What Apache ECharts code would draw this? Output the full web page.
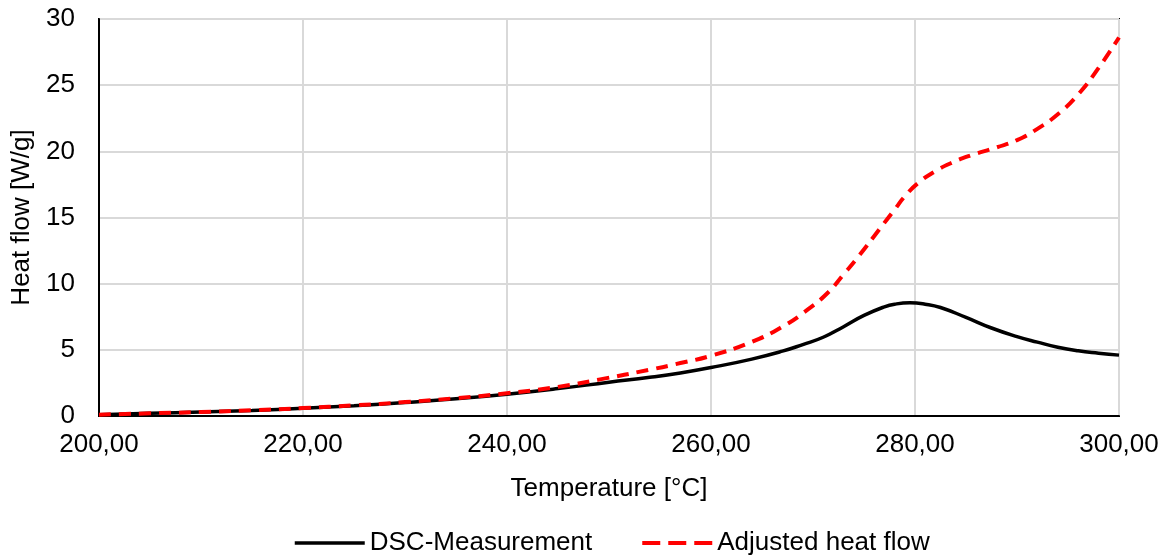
<!DOCTYPE html>
<html>
<head>
<meta charset="utf-8">
<script src="https://cdn.jsdelivr.net/npm/echarts@6/dist/echarts.min.js"></script>
<style>
    html, body { margin: 0; padding: 0; background: #fff; }
    #chart { width: 1166px; height: 556px; }
</style>
</head>
<body>
<div id="chart"></div>
<script>
// 数据
var dscTemp = [200, 205, 210, 215, 220, 225, 230, 235, 240, 245, 250, 254, 257, 260, 264, 267, 269, 271, 273, 275, 277, 278, 279.5, 281, 282.5, 285, 287.5, 290, 292, 294, 296, 298, 300];
var dscFlow = [0.1, 0.2, 0.3, 0.42, 0.58, 0.78, 1.02, 1.3, 1.65, 2.07, 2.55, 2.92, 3.25, 3.66, 4.3, 4.9, 5.4, 5.95, 6.75, 7.6, 8.25, 8.45, 8.55, 8.45, 8.2, 7.45, 6.65, 6.0, 5.58, 5.2, 4.93, 4.75, 4.6];

var adjTemp = [200, 205, 210, 215, 220, 225, 230, 235, 240, 245, 249, 254, 257, 260, 264, 267, 269.5, 271.5, 273, 274.5, 276.5, 278, 279, 280.3, 282, 283.5, 285.5, 288, 290, 292, 294, 296, 298, 300];
var adjFlow = [0.1, 0.2, 0.3, 0.43, 0.6, 0.8, 1.05, 1.35, 1.72, 2.2, 2.75, 3.5, 4.0, 4.55, 5.6, 6.75, 8.05, 9.35, 10.7, 12.1, 14.1, 15.6, 16.6, 17.6, 18.5, 19.1, 19.7, 20.3, 20.85, 21.7, 22.8, 24.3, 26.3, 28.6];

var seriesNames = ['DSC-Measurement', 'Adjusted heat flow'];

function pairs(xs, ys) {
    var out = [];
    for (var i = 0; i < xs.length; i++) {
        out.push([xs[i], ys[i]]);
    }
    return out;
}

var chart = echarts.init(document.getElementById('chart'));
var font = 'Liberation Sans, Arial, sans-serif';
var fs = 26;

var option = {
    animation: false,
    textStyle: { fontFamily: font },
    grid: {
        left: 99, right: 47, top: 19, bottom: 140,
        show: true,
        borderColor: '#000',
        borderWidth: 2
    },
    legend: {
        data: [
            { name: seriesNames[0], lineStyle: { width: 3.5 } },
            { name: seriesNames[1], lineStyle: { width: 4, type: [18, 8] } }
        ],
        left: 288,
        top: 525,
        itemWidth: 70,
        itemHeight: 14,
        itemGap: 48,
        itemStyle: { opacity: 0 },
        textStyle: { fontFamily: font, fontSize: fs, color: '#000' }
    },
    xAxis: {
        type: 'value',
        min: 200,
        max: 300,
        interval: 20,
        name: 'Temperature [°C]',
        nameLocation: 'middle',
        nameGap: 60,
        nameTextStyle: { fontFamily: font, fontSize: fs, color: '#000' },
        axisLine: { show: true, lineStyle: { color: '#000', width: 2 } },
        axisTick: { show: false },
        axisLabel: {
            margin: 16,
            fontFamily: font,
            fontSize: fs,
            color: '#000',
            formatter: function (v) { return v.toFixed(2).replace('.', ','); }
        },
        splitLine: { show: true, lineStyle: { color: '#d9d9d9', width: 2 } }
    },
    yAxis: {
        type: 'value',
        min: 0,
        max: 30,
        interval: 5,
        name: 'Heat flow [W/g]',
        nameLocation: 'middle',
        nameGap: 64,
        nameTextStyle: { fontFamily: font, fontSize: fs, color: '#000' },
        axisLine: { show: true, lineStyle: { color: '#000', width: 2 } },
        axisTick: { show: false },
        axisLabel: { margin: 24, fontFamily: font, fontSize: fs, color: '#000' },
        splitLine: { show: true, lineStyle: { color: '#d9d9d9', width: 2 } }
    },
    series: [
        {
            name: seriesNames[0],
            type: 'line',
            smooth: true,
            symbol: 'none',
            data: pairs(dscTemp, dscFlow),
            lineStyle: { color: '#000', width: 3.5 },
            itemStyle: { color: '#000' }
        },
        {
            name: seriesNames[1],
            type: 'line',
            smooth: true,
            symbol: 'none',
            data: pairs(adjTemp, adjFlow),
            lineStyle: { color: '#ff0000', width: 4, type: [12, 8] },
            itemStyle: { color: '#ff0000' }
        }
    ]
};

chart.setOption(option);
</script>
</body>
</html>
